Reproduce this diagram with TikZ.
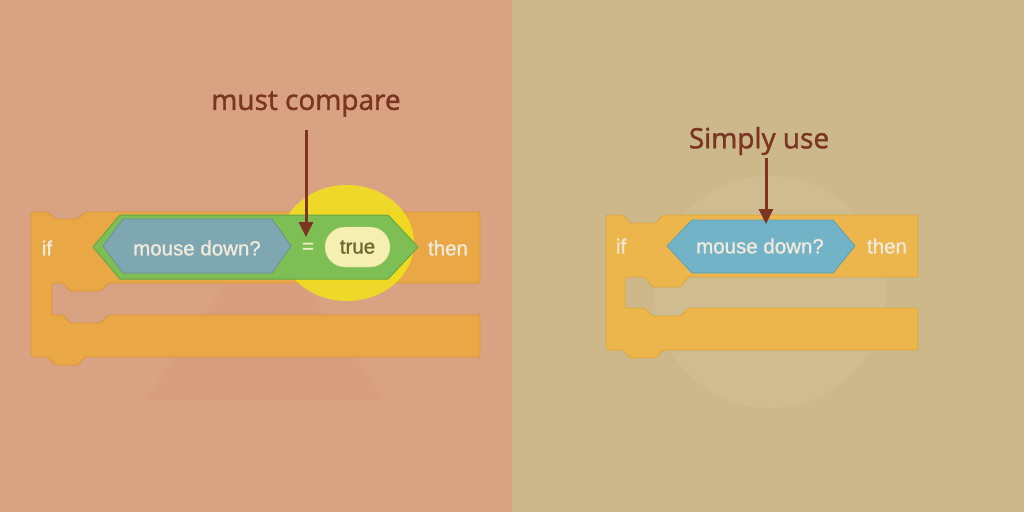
\documentclass[tikz,border=0pt]{standalone}
\usepackage{fontspec}
\setmainfont{Liberation Sans}
\newfontfamily\blockfont[FakeBold=1.2]{Liberation Sans}
\newfontfamily\handfont[FakeBold=1.5]{Open Sans}
\usetikzlibrary{arrows.meta}
\definecolor{bgL}{HTML}{D9A283}
\definecolor{bgR}{HTML}{CCB88A}
\definecolor{blkL}{HTML}{E9A845}
\definecolor{blkLd}{HTML}{D9953A}
\definecolor{blkR}{HTML}{ECB64C}
\definecolor{blkRd}{HTML}{DCA640}
\definecolor{grn}{HTML}{7DBE55}
\definecolor{grnd}{HTML}{66A845}
\definecolor{bluL}{HTML}{7FA7B2}
\definecolor{bluR}{HTML}{72B3C8}
\definecolor{bluRd}{HTML}{5FA0B5}
\definecolor{txtW}{HTML}{F1EADB}
\definecolor{glow}{HTML}{F2E01E}
\definecolor{pill}{HTML}{F5EFB2}
\definecolor{pillt}{HTML}{6E6732}
\definecolor{ink}{HTML}{7B3522}
\tikzset{
  blocktext/.style={text=txtW, font=\blockfont\fontsize{20.5}{22}\selectfont, inner sep=0pt},
  handtext/.style={text=ink, font=\handfont\fontsize{28}{30}\selectfont, inner sep=0pt},
  inkarrow/.style={draw=ink, line width=3pt, -{Triangle[length=15pt,width=14pt]}},
}
\begin{document}
\begin{tikzpicture}[x=1pt,y=-1pt]
\useasboundingbox (0,0) rectangle (1024,512);
% backgrounds
\fill[bgL] (0,0) rectangle (512,512);
\fill[bgR] (512,0) rectangle (1024,512);
% faint watermarks
\fill[red!60!brown, opacity=0.03] (265,228) -- (385,400) -- (145,400) -- cycle;
\fill[white, opacity=0.06] (770,292) circle (116);

% ---------- left block ----------
\draw[blkLd, fill=blkL, line width=0.8pt, rounded corners=2pt]
  (31,212) -- (48,212) -- (55,219) -- (78,219) -- (85,212) -- (480,212) -- (480,283)
  -- (108,283) -- (101,291) -- (70,291) -- (63,283) -- (52,283) -- (52,315)
  -- (63,315) -- (70,323) -- (101,323) -- (108,315) -- (480,315) -- (480,357)
  -- (85,357) -- (78,365) -- (55,365) -- (48,357) -- (31,357) -- cycle;
% yellow highlight
\fill[glow, opacity=0.88] (347,243) ellipse (67 and 58);
% green hexagon
\draw[grnd, fill=grn, line width=1pt] (93,247) -- (120,215) -- (388,215) -- (418,247) -- (388,279) -- (120,279) -- cycle;
% blue hexagon
\draw[bluL!85!black, fill=bluL, line width=0.8pt] (103,246) -- (123,219) -- (272,219) -- (291,246) -- (272,273) -- (123,273) -- cycle;
\node[blocktext] (ifL) at (47,248) {if};
\node[blocktext] (mdL) at (197,248) {mouse down?};
\node[blocktext, text=txtW!90!yellow] (eqL) at (308,248) {=};
\node[draw=pill!80!olive, fill=pill, rounded corners=20pt, minimum width=65pt, minimum height=40pt, inner sep=0pt,
      text=pillt, font=\blockfont\fontsize{20.5}{22}\selectfont] (trueL) at (357.5,247) {true};
\node[blocktext] (thenL) at (448,248) {then};
% annotation left
\node[handtext] (mc) at (306,104) {must compare};
\coordinate (a1s) at (306,130);
\coordinate (a1e) at (306,237);
\draw[inkarrow] (a1s) -- (a1e);

% ---------- right block ----------
\draw[blkRd, fill=blkR, line width=0.8pt, rounded corners=2pt]
  (606,215) -- (623,215) -- (630,223) -- (656,223) -- (663,215) -- (918,215) -- (918,277)
  -- (688,277) -- (681,287) -- (652,287) -- (645,277) -- (625,277) -- (625,308)
  -- (645,308) -- (652,316) -- (681,316) -- (688,308) -- (918,308) -- (918,350)
  -- (663,350) -- (656,358) -- (630,358) -- (623,350) -- (606,350) -- cycle;
\draw[bluRd, fill=bluR, line width=0.8pt] (667,246) -- (692,220) -- (833,220) -- (855,246) -- (833,273) -- (692,273) -- cycle;
\node[blocktext] (ifR) at (621,246) {if};
\node[blocktext] (mdR) at (760,246) {mouse down?};
\node[blocktext] (thenR) at (887,246) {then};
% annotation right
\node[handtext] (su) at (759,141) {Simply use};
\coordinate (a2s) at (766,158);
\coordinate (a2e) at (766,224);
\draw[inkarrow] (a2s) -- (a2e);
\end{tikzpicture}
\end{document}
